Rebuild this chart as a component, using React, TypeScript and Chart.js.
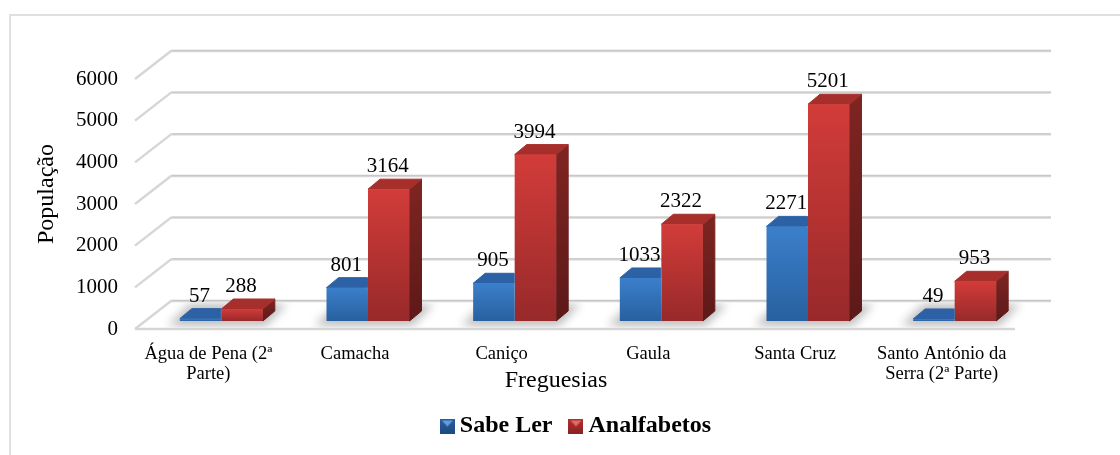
import React, { useEffect, useRef } from "react";
import { Chart, registerables } from "chart.js";

Chart.register(...registerables);

const categories = [
  ["Água de Pena (2ª", "Parte)"],
  "Camacha",
  "Caniço",
  "Gaula",
  "Santa Cruz",
  ["Santo António da", "Serra (2ª Parte)"],
];
const sabeLer = [57, 801, 905, 1033, 2271, 49];
const analfabetos = [288, 3164, 3994, 2322, 5201, 953];
const seriesNames = ["Sabe Ler", "Analfabetos"];

const SERIF = '"Liberation Serif", "Times New Roman", serif';
const WALL_DX = 36;
const WALL_DY = 28;
const BAR_DX = 13;
const BAR_DY = 8;
const DEPTH_X = 12;
const DEPTH_Y = 10;

const palettes = [
  { front: ["#3b7fcb", "#28609f"], top: "#2c62a5", side: ["#1f4f86", "#173c68"], legend: ["#5b9fe3", "#2b5f9e", "#1f4a80"] },
  { front: ["#d23c39", "#98292a"], top: "#a62f2c", side: ["#7f2522", "#5c1918"], legend: ["#e26a66", "#b5302d", "#8a2321"] },
];

function marker(p: any) {
  const c = document.createElement("canvas");
  c.width = 15;
  c.height = 15;
  const g = c.getContext("2d")!;
  const grad = g.createLinearGradient(0, 0, 0, 15);
  grad.addColorStop(0, p.legend[1]);
  grad.addColorStop(1, p.legend[2]);
  g.fillStyle = grad;
  g.fillRect(0, 0, 15, 15);
  g.fillStyle = p.legend[0];
  g.beginPath();
  g.moveTo(2, 2);
  g.lineTo(13, 2);
  g.lineTo(7.5, 8);
  g.closePath();
  g.fill();
  return c;
}

function shiftDraw(obj: any, name: string, dx: number, dy: number) {
  if (obj.__shifted) return;
  obj.__shifted = true;
  const orig = obj[name];
  obj[name] = function (...args: any[]) {
    const ctx = this.ctx;
    ctx.save();
    ctx.translate(dx, dy);
    orig.apply(this, args);
    ctx.restore();
  };
}

function poly(ctx: CanvasRenderingContext2D, pts: number[][], fill: any) {
  ctx.beginPath();
  pts.forEach((p, i) => (i ? ctx.lineTo(p[0], p[1]) : ctx.moveTo(p[0], p[1])));
  ctx.closePath();
  ctx.fillStyle = fill;
  ctx.strokeStyle = fill;
  ctx.lineWidth = 1;
  ctx.lineJoin = "round";
  ctx.fill();
  ctx.stroke();
}

const depthPlugin = {
  id: "depth3d",
  afterLayout(chart: any) {
    shiftDraw(chart.scales.x, "drawTitle", -19, -2.5);
    shiftDraw(chart.scales.y, "drawTitle", 32, -10);
    const lg = chart.legend;
    lg.left = 0;
    lg.right = 1158;
    lg.top = lg.top - 7;
    lg.bottom = lg.bottom - 7;
  },
  beforeDraw(chart: any) {
    const ctx = chart.ctx;
    ctx.save();
    ctx.fillStyle = "#ffffff";
    ctx.fillRect(0, 0, chart.width, chart.height);
    ctx.strokeStyle = "#e0e0e0";
    ctx.lineWidth = 2;
    ctx.beginPath();
    ctx.moveTo(10, chart.height);
    ctx.lineTo(10, 15);
    ctx.lineTo(chart.width, 15);
    ctx.stroke();
    ctx.restore();
  },
  beforeDatasetsDraw(chart: any) {
    const { ctx, chartArea } = chart;
    const y = chart.scales.y;
    const { left, right, bottom } = chartArea;
    ctx.save();
    ctx.lineCap = "butt";
    y.ticks.forEach((t: any) => {
      const py = y.getPixelForValue(t.value);
      ctx.strokeStyle = "#d6d6d6";
      ctx.lineWidth = 2.4;
      ctx.beginPath();
      ctx.moveTo(left, py);
      ctx.lineTo(left + WALL_DX, py - WALL_DY);
      ctx.lineTo(right + WALL_DX, py - WALL_DY);
      ctx.stroke();
      ctx.strokeStyle = "#c2c2c2";
      ctx.lineWidth = 0.8;
      ctx.beginPath();
      ctx.moveTo(left + WALL_DX + 1, py - WALL_DY - 0.6);
      ctx.lineTo(right + WALL_DX, py - WALL_DY - 0.6);
      ctx.stroke();
    });
    ctx.strokeStyle = "#d6d6d6";
    ctx.lineWidth = 2.4;
    ctx.beginPath();
    ctx.moveTo(left, bottom);
    ctx.lineTo(right, bottom);
    ctx.stroke();

    // soft floor shadow under each pair of bars
    ctx.save();
    ctx.beginPath();
    ctx.moveTo(left + 2, bottom - 1.5);
    ctx.lineTo(left + WALL_DX + 1, bottom - WALL_DY + 1.5);
    ctx.lineTo(right + WALL_DX, bottom - WALL_DY + 1.5);
    ctx.lineTo(right, bottom - 1.5);
    ctx.closePath();
    ctx.clip();
    ctx.filter = "blur(5px)";
    ctx.fillStyle = "rgba(0,0,0,0.26)";
    const m0 = chart.getDatasetMeta(0).data;
    const m1 = chart.getDatasetMeta(1).data;
    m0.forEach((b: any, i: number) => {
      const l = b.x - b.width / 2 + BAR_DX;
      const r = m1[i].x + m1[i].width / 2 + BAR_DX;
      ctx.beginPath();
      ctx.moveTo(l - 12, bottom - 3);
      ctx.lineTo(r + 3, bottom - 3);
      ctx.lineTo(r + 24, bottom - 25);
      ctx.lineTo(l + 10, bottom - 25);
      ctx.closePath();
      ctx.fill();
    });
    ctx.restore();
    ctx.restore();
  },
  beforeDatasetDraw(chart: any, args: any) {
    const ctx = chart.ctx;
    const p = palettes[args.index];
    ctx.save();
    ctx.translate(BAR_DX, -BAR_DY);
    args.meta.data.forEach((b: any) => {
      const l = b.x - b.width / 2;
      const r = b.x + b.width / 2;
      const t = b.y;
      const base = b.base;
      // Chart.js paints the first dataset last, so the blue bar's depth stops at the red bar it sits behind.
      if (args.index === 0) {
        poly(ctx, [[l, t], [l + DEPTH_X, t - DEPTH_Y], [r - 0.5, t - DEPTH_Y], [r - 0.5, t]], p.top);
        return;
      }
      const side = ctx.createLinearGradient(0, t - DEPTH_Y, 0, base);
      side.addColorStop(0, p.side[0]);
      side.addColorStop(1, p.side[1]);
      poly(ctx, [[r, t], [r + DEPTH_X, t - DEPTH_Y], [r + DEPTH_X, base - DEPTH_Y], [r, base]], side);
      poly(ctx, [[l, t], [l + DEPTH_X, t - DEPTH_Y], [r + DEPTH_X, t - DEPTH_Y], [r, t]], p.top);
    });
  },
  afterDatasetDraw(chart: any) {
    chart.ctx.restore();
  },
  afterDatasetsDraw(chart: any) {
    const ctx = chart.ctx;
    ctx.save();
    ctx.fillStyle = "#000000";
    ctx.font = `21px ${SERIF}`;
    ctx.textAlign = "center";
    ctx.textBaseline = "middle";
    [0, 1].forEach((d) => {
      chart.getDatasetMeta(d).data.forEach((b: any, i: number) => {
        const v = chart.data.datasets[d].data[i];
        ctx.fillText(String(v), b.x + BAR_DX - 1, b.y - BAR_DY - 22.5);
      });
    });
    ctx.restore();
  },
};

function frontColor(index: number) {
  return (c: any) => {
    const p = palettes[index];
    if (c.type !== "data" || !c.chart.chartArea || !c.parsed) return p.front[0];
    const y = c.chart.scales.y;
    const g = c.chart.ctx.createLinearGradient(0, y.getPixelForValue(c.parsed.y), 0, y.getPixelForValue(0));
    g.addColorStop(0, p.front[0]);
    g.addColorStop(1, p.front[1]);
    return g;
  };
}

export default function App() {
  const ref = useRef<HTMLCanvasElement>(null);
  useEffect(() => {
    const chart = new Chart(ref.current!, {
      type: "bar",
      data: {
        labels: categories as any,
        datasets: [
          { label: seriesNames[0], data: sabeLer, backgroundColor: frontColor(0) as any, clip: false as any, borderRadius: 1 },
          { label: seriesNames[1], data: analfabetos, backgroundColor: frontColor(1) as any, clip: false as any, borderRadius: 1 },
        ],
      },
      plugins: [depthPlugin as any],
      options: {
        responsive: false,
        animation: false,
        layout: { padding: { left: 0, right: 105, top: 79, bottom: 0 } },
        datasets: { bar: { categoryPercentage: 0.566, barPercentage: 1 } },
        plugins: {
          tooltip: { enabled: false },
          legend: {
            position: "bottom",
            labels: {
              boxWidth: 1,
              padding: 23,
              usePointStyle: true,
              color: "#000000",
              font: { family: SERIF, size: 24, weight: "bold" },
              generateLabels: () =>
                seriesNames.map((text, i) => ({
                  text,
                  datasetIndex: i,
                  pointStyle: marker(palettes[i]),
                  fillStyle: palettes[i].front[0],
                  strokeStyle: "transparent",
                  lineWidth: 0,
                  hidden: false,
                })) as any,
            },
          },
        },
        scales: {
          x: {
            afterFit: (s: any) => {
              s.height = 69;
            },
            grid: { display: false, drawTicks: false },
            border: { display: false },
            ticks: {
              autoSkip: false,
              maxRotation: 0,
              minRotation: 0,
              padding: 15,
              color: "#000000",
              font: { family: SERIF, size: 18.5, lineHeight: 1.08 },
            },
            title: {
              display: true,
              text: "Freguesias",
              color: "#000000",
              padding: 0,
              font: { family: SERIF, size: 24 },
            },
          },
          y: {
            min: 0,
            max: 6000,
            afterFit: (s: any) => {
              s.width = 135;
            },
            grid: { display: false, drawTicks: false },
            border: { display: false },
            ticks: {
              stepSize: 1000,
              padding: 17,
              color: "#000000",
              font: { family: SERIF, size: 21 },
              callback: (v: any) => String(v),
            },
            title: {
              display: true,
              text: "População",
              color: "#000000",
              padding: 0,
              font: { family: SERIF, size: 24 },
            },
          },
        },
      },
    } as any);
    return () => chart.destroy();
  }, []);
  return (
    <div style={{ position: "fixed", left: 0, top: 0, width: 1120, height: 455, background: "#fff" }}>
      <canvas ref={ref} width={1120} height={455} style={{ display: "block" }} />
    </div>
  );
}
